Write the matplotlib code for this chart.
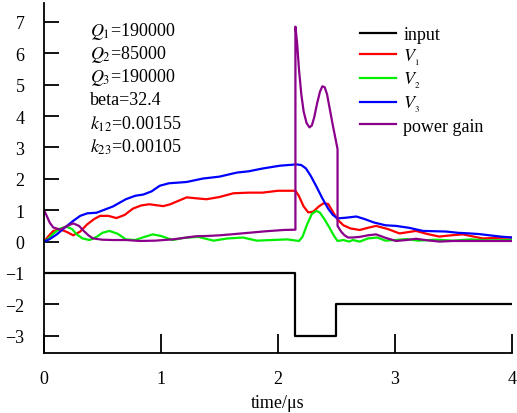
import matplotlib
matplotlib.use("Agg")
import matplotlib.pyplot as plt

plt.rcParams['font.family'] = ['Liberation Serif', 'DejaVu Serif']
plt.rcParams['mathtext.fontset'] = 'stix'

# input pulse
t_input = [0, 2.15, 2.15, 2.5, 2.5, 4.0]
v_input = [-1, -1, -3, -3, -2, -2]

# V1 (red)
t_v1 = [0, 0.04, 0.08, 0.14, 0.2, 0.25, 0.31, 0.37, 0.43, 0.48, 0.55, 0.62, 0.69, 0.76, 0.83, 0.9,
        1.02, 1.08, 1.15, 1.22, 1.3, 1.39, 1.5, 1.62, 1.75, 1.87, 2.0, 2.15, 2.18, 2.22, 2.26,
        2.3, 2.35, 2.39, 2.43, 2.47, 2.51, 2.56, 2.62, 2.7, 2.77, 2.84, 2.94, 3.04, 3.11, 3.18,
        3.28, 3.38, 3.48, 3.58, 3.66, 3.75, 3.88, 4.0]
v_v1 = [0, 0.18, 0.34, 0.39, 0.3, 0.2, 0.32, 0.55, 0.72, 0.82, 0.82, 0.75, 0.85, 1.05, 1.15, 1.19,
        1.13, 1.19, 1.3, 1.41, 1.38, 1.35, 1.42, 1.54, 1.56, 1.56, 1.62, 1.62, 1.45, 1.12, 0.93,
        0.95, 1.12, 1.22, 1.2, 0.95, 0.7, 0.52, 0.42, 0.37, 0.44, 0.5, 0.4, 0.26, 0.3, 0.34,
        0.24, 0.16, 0.2, 0.23, 0.17, 0.1, 0.12, 0.13]

# V2 (green)
t_v2 = [0, 0.04, 0.08, 0.13, 0.19, 0.24, 0.28, 0.33, 0.39, 0.45, 0.5, 0.56, 0.63, 0.7, 0.78, 0.86,
        0.93, 1.0, 1.1, 1.2, 1.32, 1.45, 1.57, 1.7, 1.82, 1.95, 2.08, 2.18, 2.21, 2.25, 2.29,
        2.33, 2.36, 2.4, 2.44, 2.48, 2.51, 2.56, 2.61, 2.64, 2.7, 2.77, 2.85, 2.92, 3.0, 3.1,
        3.2, 3.35, 3.5, 3.65, 3.8, 4.0]
v_v2 = [0, 0.1, 0.25, 0.4, 0.48, 0.4, 0.23, 0.1, 0.05, 0.15, 0.28, 0.34, 0.25, 0.07, 0.05, 0.15,
        0.23, 0.18, 0.05, 0.12, 0.15, 0.03, 0.1, 0.13, 0.03, 0.05, 0.07, 0.02, 0.15, 0.55, 0.88,
        0.98, 0.92, 0.7, 0.45, 0.18, 0.02, 0.05, 0.0, 0.05, 0.0, 0.1, 0.13, 0.03, 0.05, 0.08,
        0.03, 0.06, 0.03, 0.07, 0.04, 0.05]

# V3 (blue)
t_v3 = [0, 0.05, 0.11, 0.18, 0.25, 0.31, 0.37, 0.45, 0.52, 0.59, 0.7, 0.78, 0.85, 0.92, 0.99,
        1.07, 1.15, 1.22, 1.36, 1.5, 1.65, 1.75, 1.87, 2.02, 2.16, 2.2, 2.24, 2.28, 2.33, 2.38,
        2.43, 2.47, 2.51, 2.58, 2.67, 2.74, 2.82, 2.92, 3.01, 3.12, 3.24, 3.34, 3.44, 3.54,
        3.64, 3.72, 3.81, 3.9, 4.0]
v_v3 = [0, 0.08, 0.23, 0.45, 0.66, 0.82, 0.9, 0.92, 1.02, 1.12, 1.35, 1.46, 1.5, 1.6, 1.78,
        1.86, 1.88, 1.9, 2.01, 2.07, 2.2, 2.24, 2.33, 2.42, 2.46, 2.44, 2.33, 2.1, 1.75, 1.38,
        1.05, 0.85, 0.74, 0.76, 0.8, 0.72, 0.61, 0.52, 0.5, 0.44, 0.34, 0.33, 0.32, 0.28,
        0.26, 0.24, 0.2, 0.16, 0.13]

# power gain (purple)
t_pg = [0, 0.02, 0.05, 0.08, 0.14, 0.2, 0.25, 0.3, 0.34, 0.38, 0.42, 0.5, 0.59, 0.7, 0.82, 0.95,
        1.1, 1.2, 1.3, 1.4, 1.5, 1.6, 1.75, 1.9, 2.05, 2.15, 2.15, 2.165, 2.18, 2.2, 2.22,
        2.245, 2.27, 2.29, 2.31, 2.335, 2.36, 2.38, 2.4, 2.42, 2.44, 2.47, 2.51, 2.51, 2.54,
        2.57, 2.6, 2.64, 2.7, 2.77, 2.84, 2.92, 3.01, 3.1, 3.18, 3.28, 3.38, 3.5, 3.65, 3.8, 4.0]
v_pg = [1.0, 0.85, 0.6, 0.45, 0.38, 0.5, 0.58, 0.5, 0.34, 0.2, 0.1, 0.06, 0.05, 0.05, 0.02, 0.03,
        0.07, 0.12, 0.17, 0.18, 0.2, 0.23, 0.28, 0.33, 0.37, 0.38, 6.85, 6.3, 5.5, 4.7, 4.15,
        3.78, 3.64, 3.7, 3.95, 4.4, 4.78, 4.95, 4.92, 4.7, 4.3, 3.7, 2.95, 0.5, 0.32, 0.2,
        0.13, 0.13, 0.15, 0.2, 0.23, 0.12, 0.02, 0.05, 0.09, 0.04, 0.0, 0.02, 0.02, 0.02, 0.02]

params = [r"$Q_1$=190000", r"$Q_2$=85000", r"$Q_3$=190000", "beta=32.4",
          r"$k_{12}$=0.00155", r"$k_{23}$=0.00105"]

fig = plt.figure(figsize=(5.17, 4.14), dpi=100)
ax = fig.add_axes([0.085, 0.145, 0.905, 0.845])

lw = 1.6
ax.plot(t_input, v_input, color='black', lw=lw, label='input')
ax.plot(t_v1, v_v1, color='#ff0000', lw=lw, label=r'$V_{_1}$')
ax.plot(t_v2, v_v2, color='#00ee00', lw=lw, label=r'$V_{_2}$')
ax.plot(t_v3, v_v3, color='#0000ff', lw=lw, label=r'$V_{_3}$')
ax.plot(t_pg, v_pg, color='#8b008b', lw=lw, label='power gain')

ax.set_xlim(0, 4)
ax.set_ylim(-3.55, 7.6)
ax.set_xticks([0, 1, 2, 3, 4])
ax.set_yticks(range(-3, 8))
ax.set_yticklabels([str(v).replace('-', '\u2212') for v in range(-3, 8)])
ax.tick_params(axis='x', direction='in', length=14, width=1.3, labelsize=13, pad=12)
ax.tick_params(axis='y', direction='in', length=11, width=1.3, labelsize=13, pad=14)
for s in ['top', 'right']:
    ax.spines[s].set_visible(False)
for s in ['left', 'bottom']:
    ax.spines[s].set_linewidth(1.3)

ax.set_xlabel('time/\u03bcs', fontsize=13, labelpad=5)

for i, p in enumerate(params):
    ax.text(0.39, 6.72 - i * 0.735, p, fontsize=13, va='center', ha='left')

leg = ax.legend(loc='upper left', bbox_to_anchor=(0.66, 0.955), frameon=False, fontsize=13,
                handlelength=2.0, handletextpad=0.4, labelspacing=0.2, borderaxespad=0)

fig.savefig('out.png', dpi=100)
